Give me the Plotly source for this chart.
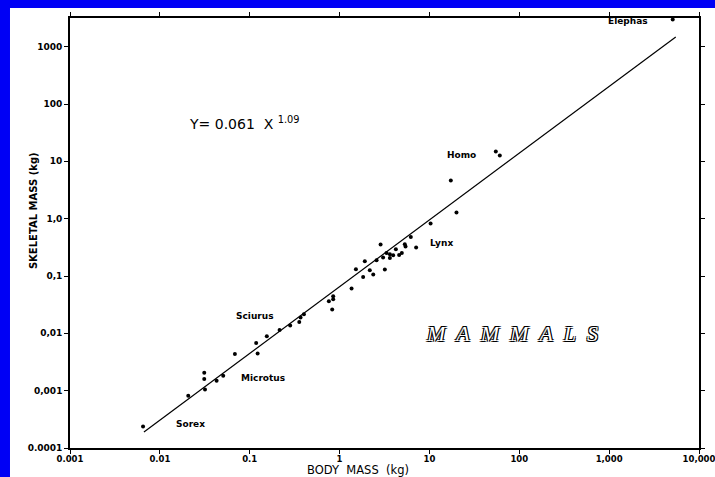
import plotly.graph_objects as go

# ---- data ----
body_mass = [0.0065, 0.0207, 0.0312, 0.0312, 0.0318, 0.0428, 0.0507, 0.0684,
             0.118, 0.1225, 0.155, 0.215, 0.282, 0.356, 0.368, 0.401,
             0.760, 0.849, 0.849, 0.828, 1.36, 1.83, 2.37, 1.52, 2.17, 3.19,
             1.91, 2.58, 3.05, 3.63, 3.33, 3.63, 3.95, 4.60, 4.93, 4.23,
             2.86, 5.32, 5.42, 7.11, 6.21, 10.3, 20.0, 17.3, 54.8, 60.7, 5100]
skeletal_mass = [0.000237, 0.000814, 0.00205, 0.00159, 0.00105, 0.00149, 0.00182, 0.00435,
                 0.00675, 0.00447, 0.00893, 0.0114, 0.0137, 0.0158, 0.0189, 0.0216,
                 0.0364, 0.0445, 0.0394, 0.0261, 0.0605, 0.0964, 0.106, 0.131, 0.126, 0.130,
                 0.181, 0.188, 0.210, 0.207, 0.252, 0.240, 0.230, 0.233, 0.252, 0.293,
                 0.354, 0.358, 0.327, 0.314, 0.480, 0.822, 1.28, 4.61, 14.9, 12.7, 2980]

fit_x = [0.00665, 5510]
fit_y = [0.000190, 1476]

x_tickvals = [0.001, 0.01, 0.1, 1, 10, 100, 1000, 10000]
x_ticktext = ["0.001", "0.01", "0.1", "1", "10", "100", "1,000", "10,000"]
y_tickvals = [0.0001, 0.001, 0.01, 0.1, 1, 10, 100, 1000]
y_ticktext = ["0.0001", "0,001", "0,01", "0,1", "1,0", "10", "100", "1000"]

genus_labels = ["Elephas", "Homo", "Lynx", "Sciurus", "Microtus", "Sorex"]
genus_pos = [(0.887, 0.993), (0.623, 0.681), (0.590, 0.477),
             (0.294, 0.307), (0.307, 0.163), (0.191, 0.056)]

fig = go.Figure()
fig.add_trace(go.Scatter(x=fit_x, y=fit_y, mode="lines",
                         line=dict(color="black", width=1.2),
                         showlegend=False, hoverinfo="skip"))
fig.add_trace(go.Scatter(x=body_mass, y=skeletal_mass, mode="markers",
                         marker=dict(color="black", size=4, line=dict(width=0)),
                         cliponaxis=False, showlegend=False))

axis_common = dict(type="log", showgrid=False, zeroline=False,
                   showline=True, linecolor="black", linewidth=1.6,
                   mirror="ticks", ticks="outside", ticklen=4, tickwidth=1.2,
                   tickcolor="black", ticklabeloverflow="allow")

fig.update_xaxes(range=[-3, 4], tickvals=x_tickvals, ticktext=x_ticktext,
                 ticklabelstandoff=-2,
                 tickfont=dict(family="DejaVu Sans", size=8.5, color="black", weight="bold"),
                 **axis_common)
fig.update_yaxes(range=[-4, 3.5], tickvals=y_tickvals, ticktext=y_ticktext,
                 tickfont=dict(family="DejaVu Sans", size=9, color="black", weight="bold"),
                 **axis_common)

annotations = []
for name, (ax, ay) in zip(genus_labels, genus_pos):
    annotations.append(dict(x=ax, y=ay, xref="paper", yref="paper", text=name,
                            xanchor="center", yanchor="middle", showarrow=False,
                            font=dict(family="DejaVu Sans", size=9, color="black", weight="bold")))

annotations.append(dict(x=0.278, y=0.755, xref="paper", yref="paper",
                        xanchor="center", yanchor="middle",
                        text="Y=\u00a00.061\u00a0 X <sup>1.09</sup>", showarrow=False,
                        font=dict(family="DejaVu Sans", size=14, color="black")))
annotations.append(dict(x=0.703, y=0.267, xref="paper", yref="paper",
                        xanchor="center", yanchor="middle",
                        text="\u00a0\u00a0".join("MAMMALS"), showarrow=False,
                        font=dict(family="Liberation Serif", size=22, color="white",
                                  style="italic",
                                  shadow="-1px -1px 0 #000, 1px -1px 0 #000, -1px 1px 0 #000, 1px 1px 0 #000")))
annotations.append(dict(x=0.458, y=-0.05, xref="paper", yref="paper",
                        xanchor="center", yanchor="middle", borderpad=0,
                        text="BODY\u00a0 MASS\u00a0 (kg)", showarrow=False,
                        font=dict(family="DejaVu Sans", size=11.5, color="black")))
annotations.append(dict(x=-0.0588, y=0.551, xref="paper", yref="paper", textangle=-90,
                        xanchor="center", yanchor="middle",
                        text="SKELETAL MASS (kg)", showarrow=False,
                        font=dict(family="DejaVu Sans", size=10, color="black", weight="bold")))

shapes = [
    dict(type="rect", xref="paper", yref="paper", x0=-0.3, x1=1.3, y0=1.0233, y1=1.2,
         fillcolor="#0000f5", line=dict(width=0), layer="above"),
    dict(type="rect", xref="paper", yref="paper", x0=-0.3, x1=-0.0954, y0=-0.3, y1=1.3,
         fillcolor="#0000f5", line=dict(width=0), layer="above"),
]

fig.update_layout(width=715, height=477,
                  margin=dict(l=70, r=16, t=18, b=29, autoexpand=False),
                  paper_bgcolor="white", plot_bgcolor="white",
                  annotations=annotations, shapes=shapes, showlegend=False)

fig.write_html("out.html", config={"displayModeBar": False},
               post_script="document.body.style.margin='0px';")
